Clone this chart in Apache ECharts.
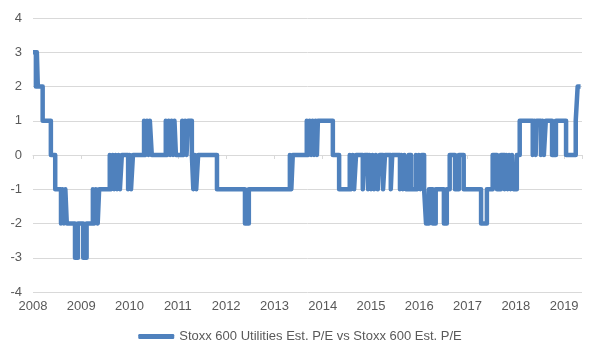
<!DOCTYPE html>
<html>
<head>
<meta charset="utf-8">
<script src="https://cdn.jsdelivr.net/npm/echarts@6/dist/echarts.min.js"></script>
<style>html,body{margin:0;padding:0;background:#fff}#c{width:600px;height:360px}</style>
</head>
<body>
<div id="c"></div>
<script>
var seriesName = 'Stoxx 600 Utilities Est. P/E vs Stoxx 600 Est. P/E';
var yearTicks = [2008, 2009, 2010, 2011, 2012, 2013, 2014, 2015, 2016, 2017, 2018, 2019];
var yTicks = [-4, -3, -2, -1, 0, 1, 2, 3, 4];
// change points: decimal year where value starts
var dates = [
  2008.00, 2008.06, 2008.08, 2008.10, 2008.20, 2008.37, 2008.46, 2008.58, 2008.61, 2008.64,
  2008.67, 2008.70, 2008.87, 2008.93, 2009.04, 2009.11, 2009.24, 2009.27, 2009.30, 2009.34,
  2009.37, 2009.59, 2009.62, 2009.65, 2009.68, 2009.71, 2009.74, 2009.77, 2009.80, 2009.84,
  2009.97, 2010.00, 2010.03, 2010.07, 2010.30, 2010.33, 2010.36, 2010.39, 2010.42, 2010.46,
  2010.75, 2010.78, 2010.81, 2010.84, 2010.87, 2010.90, 2010.93, 2010.96, 2011.09, 2011.12,
  2011.15, 2011.18, 2011.21, 2011.29, 2011.32, 2011.35, 2011.38, 2011.42, 2011.81, 2012.39,
  2012.47, 2013.32, 2013.35, 2013.38, 2013.67, 2013.70, 2013.73, 2013.76, 2013.79, 2013.82,
  2013.85, 2013.88, 2013.90, 2014.21, 2014.34, 2014.56, 2014.59, 2014.62, 2014.65, 2014.69,
  2014.83, 2014.87, 2014.94, 2014.97, 2015.00, 2015.03, 2015.06, 2015.10, 2015.14, 2015.18,
  2015.25, 2015.29, 2015.41, 2015.44, 2015.60, 2015.63, 2015.66, 2015.69, 2015.72, 2015.78,
  2015.83, 2015.93, 2015.96, 2015.99, 2016.02, 2016.05, 2016.10, 2016.14, 2016.20, 2016.28,
  2016.34, 2016.51, 2016.57, 2016.63, 2016.74, 2016.82, 2016.92, 2017.28, 2017.40, 2017.52,
  2017.61, 2017.69, 2017.77, 2017.80, 2017.83, 2017.86, 2017.89, 2017.92, 2017.95, 2018.02,
  2018.08, 2018.35, 2018.38, 2018.41, 2018.43, 2018.52, 2018.55, 2018.58, 2018.62, 2018.75,
  2018.83, 2019.04, 2019.24, 2019.28, 2019.34
];
var values = [
  3, 2, 3, 2, 1, 0, -1, -2, -1, -2,
  -1, -2, -3, -2, -3, -2, -1, -2, -1, -2,
  -1, 0, -1, 0, -1, 0, -1, 0, -1, 0,
  -1, 0, -1, 0, 1, 0, 1, 0, 1, 0,
  1, 0, 1, 0, 1, 0, 1, 0, 1, 0,
  1, 0, 1, 0, -1, 0, -1, 0, -1, -2,
  -1, 0, -1, 0, 1, 0, 1, 0, 1, 0,
  1, 0, 1, 0, -1, 0, -1, 0, -1, 0,
  -1, 0, -1, 0, -1, 0, -1, 0, -1, 0,
  -1, 0, -1, 0, -1, 0, -1, 0, -1, 0,
  -1, 0, -1, 0, -1, 0, -1, -2, -1, -2,
  -1, -2, -1, 0, -1, 0, -1, -2, -1, 0,
  -1, 0, -1, 0, -1, 0, -1, 0, -1, 0,
  1, 0, 1, 0, 1, 0, 1, 0, 1, 0,
  1, 0, 1, 2, 2
];
var xMin = 2008, xMax = 2019.37;

var data = dates.map(function (d, i) { return [d, values[i]]; });
var chart = echarts.init(document.getElementById('c'));
var labelColor = '#595959';
var gridColor = '#d9d9d9';
chart.setOption({
  animation: false,
  textStyle: { fontFamily: 'Liberation Sans, Arial, sans-serif' },
  grid: { left: 33, right: 18, top: 18, bottom: 68 },
  xAxis: [{
    type: 'value', min: xMin, max: xMax, interval: 1, position: 'bottom',
    axisLine: { show: false, onZero: false },
    axisTick: { show: false },
    splitLine: { show: false },
    axisLabel: {
      color: labelColor, fontSize: 13, margin: 8,
      showMaxLabel: false,
      formatter: function (v) { return yearTicks.indexOf(v) >= 0 ? String(v) : ''; }
    }
  }, {
    type: 'value', min: xMin, max: xMax, interval: 1, position: 'bottom',
    axisLine: { show: true, onZero: true, lineStyle: { color: gridColor, width: 1 } },
    axisTick: { show: true, length: 4, lineStyle: { color: gridColor } },
    axisLabel: { show: false },
    splitLine: { show: false }
  }],
  yAxis: {
    type: 'value', min: yTicks[0], max: yTicks[yTicks.length - 1], interval: 1,
    axisLine: { show: false }, axisTick: { show: false },
    splitLine: { lineStyle: { color: gridColor, width: 1 } },
    axisLabel: { color: labelColor, fontSize: 13, margin: 11 }
  },
  legend: {
    bottom: 12, left: 'center',
    icon: 'roundRect', itemWidth: 36, itemHeight: 5, itemGap: 4,
    textStyle: { color: labelColor, fontSize: 13 },
    data: [seriesName]
  },
  series: [{
    name: seriesName, type: 'line', step: 'end', xAxisIndex: 0,
    showSymbol: false, symbol: 'none', sampling: null,
    lineStyle: { width: 4.5, color: '#4f81bd', join: 'round', cap: 'butt' },
    itemStyle: { color: '#4f81bd' },
    data: data
  }]
});
</script>
</body>
</html>
